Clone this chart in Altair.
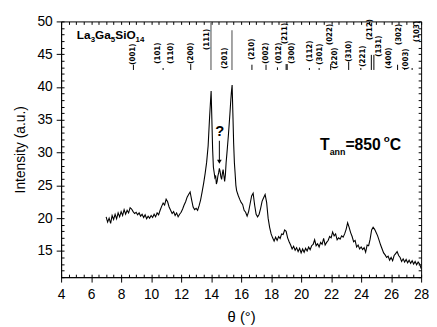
import altair as alt
import pandas as pd

# ---------------- data ----------------
theta = [
    7.0, 7.1, 7.2, 7.3, 7.4, 7.5, 7.6, 7.7, 7.8, 7.9,
    8.0, 8.1, 8.2, 8.3, 8.4, 8.5, 8.6, 8.7, 8.8, 8.9,
    9.0, 9.1, 9.2, 9.3, 9.4, 9.5, 9.6, 9.7, 9.8, 9.9,
    10.0, 10.1, 10.2, 10.3, 10.4, 10.5, 10.6, 10.7, 10.8, 10.9,
    11.0, 11.1, 11.2, 11.3, 11.4, 11.5, 11.6, 11.7, 11.8, 11.9,
    12.0, 12.1, 12.2, 12.3, 12.4, 12.5, 12.6, 12.7, 12.8, 12.9,
    13.0, 13.1, 13.2, 13.3, 13.4, 13.5, 13.6, 13.7, 13.8, 13.9,
    14.0, 14.05, 14.1, 14.15, 14.2, 14.25, 14.3, 14.35, 14.4, 14.45,
    14.5, 14.55, 14.6, 14.65, 14.7, 14.75, 14.8, 14.85, 14.9, 14.95,
    15.0, 15.05, 15.1, 15.15, 15.2, 15.25, 15.3, 15.35, 15.4, 15.45,
    15.5, 15.55, 15.6, 15.65, 15.7, 15.8, 15.9,
    16.0, 16.1, 16.2, 16.3, 16.4, 16.5, 16.6, 16.7, 16.8, 16.9,
    17.0, 17.1, 17.2, 17.3, 17.4, 17.5, 17.6, 17.7, 17.8, 17.9,
    18.0, 18.1, 18.2, 18.3, 18.4, 18.5, 18.6, 18.7, 18.8, 18.9,
    19.0, 19.1, 19.2, 19.3, 19.4, 19.5, 19.6, 19.7, 19.8, 19.9,
    20.0, 20.1, 20.2, 20.3, 20.4, 20.5, 20.6, 20.7, 20.8, 20.9,
    21.0, 21.1, 21.2, 21.3, 21.4, 21.5, 21.6, 21.7, 21.8, 21.9,
    22.0, 22.1, 22.2, 22.3, 22.4, 22.5, 22.6, 22.7, 22.8, 22.9,
    23.0, 23.1, 23.2, 23.3, 23.4, 23.5, 23.6, 23.7, 23.8, 23.9,
    24.0, 24.1, 24.2, 24.3, 24.4, 24.5, 24.6, 24.7, 24.8, 24.9,
    25.0, 25.1, 25.2, 25.3, 25.4, 25.5, 25.6, 25.7, 25.8, 25.9,
    26.0, 26.1, 26.2, 26.3, 26.4, 26.5, 26.6, 26.7, 26.8, 26.9,
    27.0, 27.1, 27.2, 27.3, 27.4, 27.5, 27.6, 27.7, 27.8, 27.9,
    28.0,
]
intensity = [
    20.2, 19.4, 20.0, 19.2, 20.4, 19.8, 20.6, 19.9, 20.8, 20.2,
    21.0, 20.4, 21.3, 20.6, 21.2, 20.8, 21.6, 21.4, 21.0, 20.7,
    20.9, 20.5, 20.8, 20.3, 20.6, 20.1, 20.5, 19.9, 20.3, 20.0,
    20.4, 20.1, 20.6, 20.2, 20.8, 20.5, 21.2, 21.8, 22.3, 22.0,
    22.9, 22.5, 21.7, 21.2, 20.7, 21.0, 20.4, 20.8, 20.2, 20.6,
    20.9, 21.4, 22.0, 22.5, 23.2, 23.6, 24.0, 22.8, 21.7, 21.3,
    21.5, 21.2, 21.9, 22.8, 24.0, 25.3, 26.8, 28.5, 31.0, 35.5,
    39.4, 35.0, 30.5, 27.8, 27.0, 26.2, 26.5, 25.2, 25.6, 26.4,
    26.9, 27.6, 27.1, 26.3, 25.9, 26.8, 27.4, 26.5, 25.6, 26.6,
    28.5, 29.8, 31.2, 32.6, 34.2, 35.8, 37.6, 39.2, 40.3, 36.0,
    31.5, 28.5, 26.8, 25.0, 24.2, 23.5, 22.9,
    22.4, 22.1, 21.2, 20.9, 20.3, 21.0, 22.2, 23.4, 23.8, 22.0,
    20.6, 20.2, 20.6, 21.5, 22.6, 23.1, 23.6, 22.4, 20.0, 18.6,
    17.6, 17.0, 16.5, 17.1, 16.6, 17.2, 16.9, 17.6, 17.5, 18.2,
    18.0, 17.0, 16.4, 15.9, 15.3, 15.7, 15.1, 15.5, 14.9, 15.4,
    14.7, 15.3, 14.8, 15.4, 15.0, 15.6, 15.2, 15.8, 16.0, 16.7,
    15.8, 16.1, 15.6, 16.3, 16.0, 16.9, 15.9, 16.3, 16.6, 17.2,
    17.0, 17.9, 17.3, 17.6, 16.7, 17.0, 16.8, 17.3, 17.1, 17.6,
    18.3, 19.3, 18.6, 17.8, 17.2, 16.4, 16.6, 15.6, 15.9, 15.3,
    15.6, 15.2, 15.5, 14.8, 15.9, 15.8, 16.8, 18.2, 18.6, 18.3,
    17.8, 17.3, 16.6, 15.9, 15.3, 14.7, 14.4, 14.0, 14.2, 13.6,
    14.0, 13.5, 14.3, 14.6, 14.9, 14.3, 14.0, 13.4, 13.8, 13.3,
    13.7, 13.2, 13.6, 13.1, 13.5, 13.0, 13.4, 12.9, 13.3, 13.0,
    12.3,
]

# axis ticks
x_major = [4, 6, 8, 10, 12, 14, 16, 18, 20, 22, 24, 26, 28]
x_minor = [4 + 0.5 * i for i in range(49)]
y_major = [15, 20, 25, 30, 35, 40, 45, 50]
y_minor = list(range(11, 51))

# hkl reflection labels (rotated), x position and bottom of the text
hkl = ["(001)", "(101)", "(110)", "(200)", "(111)", "(201)", "(210)", "(002)",
       "(012)", "(211)", "(300)", "(112)", "(301)", "(022)", "(220)", "(310)",
       "(221)", "(212)", "(131)", "(400)", "(302)", "(003)", "(103)"]
hkl_theta = [8.82, 10.43, 11.3, 12.64, 13.7, 14.9, 16.72, 17.66,
             18.5, 18.95, 19.39, 20.6, 21.25, 21.9, 22.28, 23.17,
             24.1, 24.6, 25.2, 25.84, 26.5, 27.0, 27.7]
hkl_base = [43.4, 43.55, 43.55, 43.55, 45.65, 42.8, 44.15, 43.55,
            43.55, 46.55, 43.55, 43.85, 43.4, 46.4, 42.8, 43.85,
            43.1, 47.15, 44.6, 42.8, 46.4, 42.65, 46.85]

# reference reflection markers
ref_theta = [8.82, 10.8, 12.64, 16.72, 17.66, 18.42, 19.0, 19.07, 20.55, 21.2,
             21.97, 23.17, 23.98, 24.68, 24.85, 26.43, 26.9, 27.4]
ref_top = [43.4, 42.9, 43.5, 43.4, 43.4, 43.0, 43.5, 43.5, 42.9, 42.9,
           43.5, 43.85, 42.9, 44.9, 44.9, 43.4, 42.9, 42.9]
ref_bottom = 42.6
strong_theta = [13.99, 15.39]
strong_top = [49.85, 48.65]

# annotation texts
ann_text = ["La", "3", "Ga", "5", "SiO", "14", "T", "ann", "=850", "o", "C"]
ann_theta = [5.05, 5.97, 6.26, 7.31, 7.61, 8.96, 21.25, 21.9, 22.95, 25.5, 25.9]
ann_y = [47.3, 46.85, 47.3, 46.85, 47.3, 46.85, 30.35, 29.6, 30.35, 31.55, 30.35]
ann_size = [12, 8, 12, 8, 12, 8, 16, 9, 16, 10, 16]

q_theta = [14.58]
q_y = [32.6]
arrow_theta = [14.55]
arrow_top = [31.8]
arrow_tip = [28.6]

# ---------------- chart ----------------
W, H = 366, 260
FONT = "Liberation Sans"
NARROW = "Liberation Sans Narrow, DejaVu Sans Condensed, sans-serif"

df = pd.DataFrame({"theta": theta, "intensity": intensity})
xs = alt.Scale(domain=[4, 28], nice=False, zero=False)
ys = alt.Scale(domain=[11, 50], nice=False, zero=False)


def ax(**kw):
    base = dict(grid=False, tickColor="black", domainColor="black",
                labelColor="black", titleColor="black",
                labelFont=FONT, titleFont=FONT, tickWidth=1, domainWidth=1)
    base.update(kw)
    return alt.Axis(**base)


line = alt.Chart(df).mark_line(color="black", strokeWidth=1.1).encode(
    x=alt.X("theta:Q", scale=xs, axis=ax(
        orient="bottom", values=x_major, tickSize=5, labelPadding=6,
        labelFontSize=14, labelFlush=False, labelOverlap=False,
        title="θ (°)", titleFontSize=15, titleFontWeight="normal",
        titlePadding=8)),
    y=alt.Y("intensity:Q", scale=ys, axis=ax(
        orient="left", values=y_major, tickSize=5, labelPadding=4,
        labelFontSize=14, labelFlush=False, labelOverlap=False,
        title="Intensity (a.u.)", titleFontSize=14, titleFontWeight="normal",
        titlePadding=10)),
)

ticks_a = alt.Chart(df).mark_point(opacity=0, size=1).encode(
    x=alt.X("theta:Q", scale=xs, axis=ax(
        orient="top", offset=-H, values=x_minor, tickSize=3, labels=False,
        domain=False, title=None)),
    y=alt.Y("intensity:Q", scale=ys, axis=ax(
        orient="right", offset=-W, values=y_minor, tickSize=3, labels=False,
        domain=False, title=None)),
)

ticks_b = alt.Chart(df).mark_point(opacity=0, size=1).encode(
    x=alt.X("theta:Q", scale=xs, axis=ax(
        orient="bottom", offset=-H, values=x_minor, tickSize=3, labels=False,
        domain=False, title=None)),
    y=alt.Y("intensity:Q", scale=ys, axis=ax(
        orient="left", offset=-W, values=y_minor, tickSize=3, labels=False,
        domain=False, title=None)),
)

ref_df = pd.DataFrame({"theta": ref_theta, "top": ref_top,
                       "bottom": [ref_bottom] * len(ref_theta)})
refs = alt.Chart(ref_df).mark_rule(color="black", strokeWidth=1).encode(
    x=alt.X("theta:Q", scale=xs, axis=None),
    y=alt.Y("bottom:Q", scale=ys, axis=None),
    y2="top:Q",
)

strong_df = pd.DataFrame({"theta": strong_theta, "top": strong_top,
                          "bottom": [ref_bottom] * len(strong_theta)})
strong = alt.Chart(strong_df).mark_rule(color="#666666", strokeWidth=1.2).encode(
    x=alt.X("theta:Q", scale=xs, axis=None),
    y=alt.Y("bottom:Q", scale=ys, axis=None),
    y2="top:Q",
)

hkl_df = pd.DataFrame({"hkl": hkl, "theta": hkl_theta, "base": hkl_base})
hkl_text = alt.Chart(hkl_df).mark_text(
    angle=270, align="left", baseline="middle", font=NARROW,
    fontSize=8, fontWeight="bold", color="black",
).encode(
    x=alt.X("theta:Q", scale=xs, axis=None),
    y=alt.Y("base:Q", scale=ys, axis=None),
    text="hkl:N",
)

ann_df = pd.DataFrame({"t": ann_text, "theta": ann_theta, "y": ann_y,
                       "fs": ann_size})
ann = alt.Chart(ann_df).mark_text(
    align="left", baseline="alphabetic", font=FONT, fontWeight="bold",
    color="black",
).encode(
    x=alt.X("theta:Q", scale=xs, axis=None),
    y=alt.Y("y:Q", scale=ys, axis=None),
    text="t:N",
    size=alt.Size("fs:Q", scale=None, legend=None),
)

q_df = pd.DataFrame({"theta": q_theta, "y": q_y, "t": ["?"]})
q = alt.Chart(q_df).mark_text(
    align="center", baseline="alphabetic", font=FONT, fontWeight="bold",
    fontSize=15, color="black",
).encode(
    x=alt.X("theta:Q", scale=xs, axis=None),
    y=alt.Y("y:Q", scale=ys, axis=None),
    text="t:N",
)

arrow_df = pd.DataFrame({"theta": arrow_theta, "top": arrow_top,
                         "tip": arrow_tip})
arrow_shaft = alt.Chart(arrow_df).mark_rule(color="black", strokeWidth=1).encode(
    x=alt.X("theta:Q", scale=xs, axis=None),
    y=alt.Y("top:Q", scale=ys, axis=None),
    y2="tip:Q",
)
arrow_head = alt.Chart(arrow_df).mark_point(
    shape="triangle-down", filled=True, color="black", size=22, opacity=1,
).encode(
    x=alt.X("theta:Q", scale=xs, axis=None),
    y=alt.Y("tip:Q", scale=ys, axis=None),
)

chart = alt.layer(
    ticks_a, ticks_b, refs, strong, hkl_text, ann, q, arrow_shaft,
    arrow_head, line,
).resolve_axis(
    x="independent", y="independent"
).properties(
    width=W, height=H,
    padding={"left": 54, "top": 11, "right": 8, "bottom": 48},
    autosize=alt.AutoSizeParams(type="none"),
).configure_view(stroke="black", strokeWidth=1)

chart.save("out.html", embed_options={"renderer": "svg", "actions": False})
